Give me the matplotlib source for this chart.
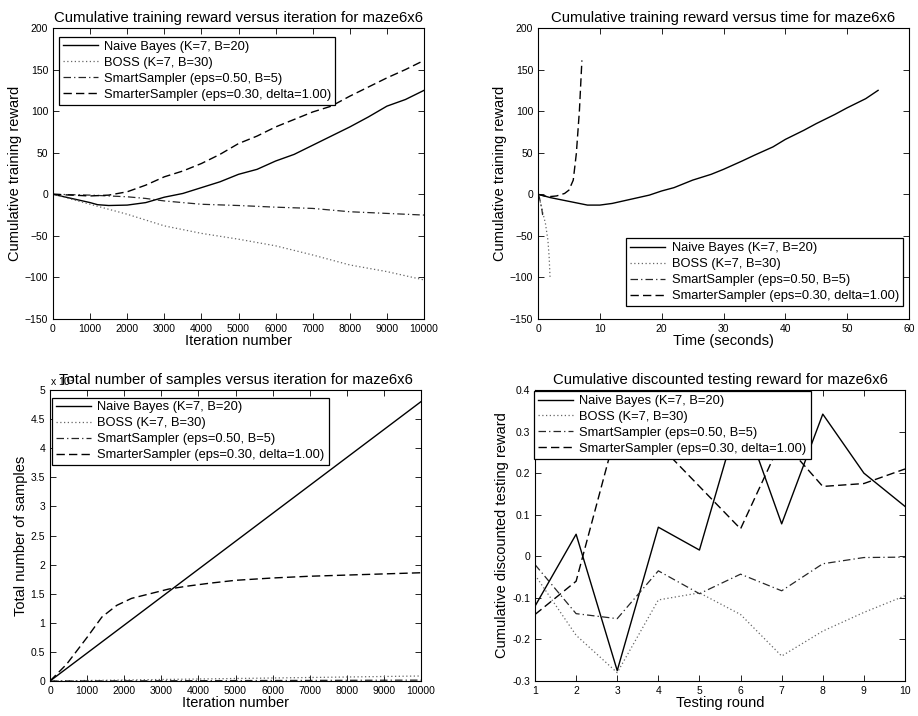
import numpy as np
import matplotlib
matplotlib.use('Agg')
import matplotlib.pyplot as plt
from matplotlib.ticker import FuncFormatter

plt.rcParams['font.family'] = ['Liberation Sans', 'DejaVu Sans']
plt.rcParams['axes.unicode_minus'] = True

labels = ['Naive Bayes (K=7, B=20)',
          'BOSS (K=7, B=30)',
          'SmartSampler (eps=0.50, B=5)',
          'SmarterSampler (eps=0.30, delta=1.00)']

# training reward vs iteration
it_naive = [0, 500, 1000, 1200, 1500, 2000, 2500, 3000, 3500, 4000, 4500, 5000, 5500,
            6000, 6500, 7000, 7500, 8000, 8500, 9000, 9500, 10000]
rw_naive = [0, -5, -10, -12.5, -13.5, -13, -10, -3.5, 1, 8, 15, 24, 30,
            40, 48, 59, 70, 81, 93, 106, 114, 125]
it_boss = [0, 1000, 2000, 3000, 4000, 5000, 6000, 7000, 8000, 9000, 10000]
rw_boss = [0, -12, -24, -38, -47, -54, -62, -73, -85, -93, -103]
it_smart = [0, 1000, 2000, 2500, 3000, 3500, 4000, 5000, 6000, 7000, 8000, 9000, 10000]
rw_smart = [0, -1, -3, -5, -8, -10, -12, -13.5, -15.5, -17, -21, -23, -25]
it_smarter = [0, 500, 1000, 1500, 2000, 2500, 3000, 3500, 4000, 4500, 5000, 5500,
              6000, 6500, 7000, 7500, 8000, 8500, 9000, 9500, 10000]
rw_smarter = [0, -1, -2, -1, 3, 11, 21, 28, 37, 48, 61, 70, 81, 90, 99, 106, 118, 129, 140, 150, 161]

# training reward vs wall-clock time (seconds)
t_naive = [0, 2, 4, 6, 8, 10, 12, 15, 18, 20, 22, 25, 28, 30, 33, 35, 38, 40, 43, 45,
           48, 50, 53, 55]
tr_naive = [0, -4, -7, -10, -13, -13, -11, -6, -1, 4, 8, 17, 24, 30, 40, 47, 57, 66, 77, 85,
            96, 104, 115, 125]
t_boss = [0, 0.4, 0.8, 1.2, 1.6, 1.8, 1.95]
tr_boss = [0, -10, -23, -35, -55, -75, -100]
t_smart = [0, 0.2, 0.4, 0.6, 0.75]
tr_smart = [0, -3, -10, -17, -25]
t_smarter = [0, 1.6, 3.0, 4.3, 5.0, 5.7, 6.2, 6.7, 7.1]
tr_smarter = [0, -3, -2, 1, 5, 17, 49, 101, 161]

# total number of samples vs iteration
it_s = [0, 10000]
s_naive = [0, 480000]
s_boss = [0, 8600]
s_smart = [0, 1500]
it_s_smarter = [0, 450, 1000, 1400, 1800, 2200, 2700, 3200, 3700, 4300, 5000, 6000,
                7000, 8000, 9000, 10000]
s_smarter = [0, 29000, 75000, 110000, 130000, 142000, 150000, 158000, 163000, 168000,
             173000, 177000, 180000, 182000, 184000, 186000]

# discounted testing reward
rounds = np.arange(1, 11)
test_naive = [-0.12, 0.053, -0.275, 0.07, 0.015, 0.355, 0.078, 0.342, 0.2, 0.12]
test_boss = [-0.045, -0.19, -0.28, -0.105, -0.088, -0.14, -0.24, -0.18, -0.135, -0.095]
test_smart = [-0.02, -0.138, -0.15, -0.035, -0.09, -0.043, -0.083, -0.018, -0.003, -0.002]
test_smarter = [-0.14, -0.06, 0.31, 0.27, 0.168, 0.066, 0.28, 0.168, 0.175, 0.21]

styles = [dict(color='black', lw=1.0, ls='-'),
          dict(color='0.4', lw=0.9, ls=(0, (1, 2))),
          dict(color='0.15', lw=0.9, ls=(0, (6, 2.5, 1, 2.5))),
          dict(color='black', lw=1.0, ls=(0, (6, 3)))]

W, H = 918, 716
fig = plt.figure(figsize=(W / 100, H / 100), dpi=100)


def make_axes(x0, y0, x1, y1):
    return fig.add_axes([x0 / W, 1 - y1 / H, (x1 - x0) / W, (y1 - y0) / H])


def style_axes(ax):
    ax.tick_params(direction='in', top=True, right=True, labelsize=7.5, length=4, width=0.6)
    for s in ax.spines.values():
        s.set_linewidth(0.8)


def add_legend(ax, loc, anchor):
    leg = ax.legend(labels, loc=loc, bbox_to_anchor=anchor, borderaxespad=0,
                    fontsize=9.3, handlelength=2.7, handletextpad=0.5,
                    labelspacing=0.3, borderpad=0.3, fancybox=False, framealpha=1)
    leg.get_frame().set_edgecolor('black')
    leg.get_frame().set_linewidth(0.9)
    return leg


# top left
ax1 = make_axes(53, 28, 424, 319)
for (x, y), st in zip([(it_naive, rw_naive), (it_boss, rw_boss),
                        (it_smart, rw_smart), (it_smarter, rw_smarter)], styles):
    ax1.plot(x, y, **st)
ax1.set_xlim(0, 10000)
ax1.set_ylim(-150, 200)
ax1.set_xticks(np.arange(0, 10001, 1000))
ax1.set_yticks(np.arange(-150, 201, 50))
ax1.set_xlabel('Iteration number', fontsize=10.5, labelpad=0)
ax1.set_ylabel('Cumulative training reward', fontsize=10.5, labelpad=2)
ax1.set_title('Cumulative training reward versus iteration for maze6x6', fontsize=10.7, pad=4)
style_axes(ax1)
add_legend(ax1, 'upper left', (0.016, 0.969))

# top right
ax2 = make_axes(538, 28, 909, 319)
for (x, y), st in zip([(t_naive, tr_naive), (t_boss, tr_boss),
                        (t_smart, tr_smart), (t_smarter, tr_smarter)], styles):
    ax2.plot(x, y, **st)
ax2.set_xlim(0, 60)
ax2.set_ylim(-150, 200)
ax2.set_xticks(np.arange(0, 61, 10))
ax2.set_yticks(np.arange(-150, 201, 50))
ax2.set_xlabel('Time (seconds)', fontsize=10.5, labelpad=0)
ax2.set_ylabel('Cumulative training reward', fontsize=10.5, labelpad=2)
ax2.set_title('Cumulative training reward versus time for maze6x6', fontsize=10.7, pad=4)
style_axes(ax2)
add_legend(ax2, 'lower right', (0.983, 0.045))

# bottom left
ax3 = make_axes(50, 390, 421, 681)
for (x, y), st in zip([(it_s, s_naive), (it_s, s_boss),
                        (it_s, s_smart), (it_s_smarter, s_smarter)], styles):
    ax3.plot(x, y, **st)
ax3.set_xlim(0, 10000)
ax3.set_ylim(0, 500000)
ax3.set_xticks(np.arange(0, 10001, 1000))
ax3.set_yticks(np.arange(0, 500001, 50000))
ax3.yaxis.set_major_formatter(FuncFormatter(lambda v, p: '%g' % (v / 1e5)))
ax3.set_xlabel('Iteration number', fontsize=10.5, labelpad=0)
ax3.set_ylabel('Total number of samples', fontsize=10.5, labelpad=2)
ax3.set_title('Total number of samples versus iteration for maze6x6', fontsize=10.7, pad=4)
ax3.text(0.0, 1.008, 'x 10$^5$', transform=ax3.transAxes, fontsize=7.5, va='bottom', ha='left')
style_axes(ax3)
add_legend(ax3, 'upper left', (0.006, 0.974))

# bottom right
ax4 = make_axes(535, 390, 905, 681)
for y, st in zip([test_naive, test_boss, test_smart, test_smarter], styles):
    ax4.plot(rounds, y, **st)
ax4.set_xlim(1, 10)
ax4.set_ylim(-0.3, 0.4)
ax4.set_xticks(rounds)
ax4.set_yticks(np.arange(-0.3, 0.41, 0.1))
ax4.yaxis.set_major_formatter(FuncFormatter(lambda v, p: '%g' % round(v, 2)))
ax4.set_xlabel('Testing round', fontsize=10.5, labelpad=0)
ax4.set_ylabel('Cumulative discounted testing reward', fontsize=10.5, labelpad=2)
ax4.set_title('Cumulative discounted testing reward for maze6x6', fontsize=10.7, pad=4)
style_axes(ax4)
add_legend(ax4, 'upper left', (-0.002, 0.996))

fig.savefig('out.png', dpi=100)
